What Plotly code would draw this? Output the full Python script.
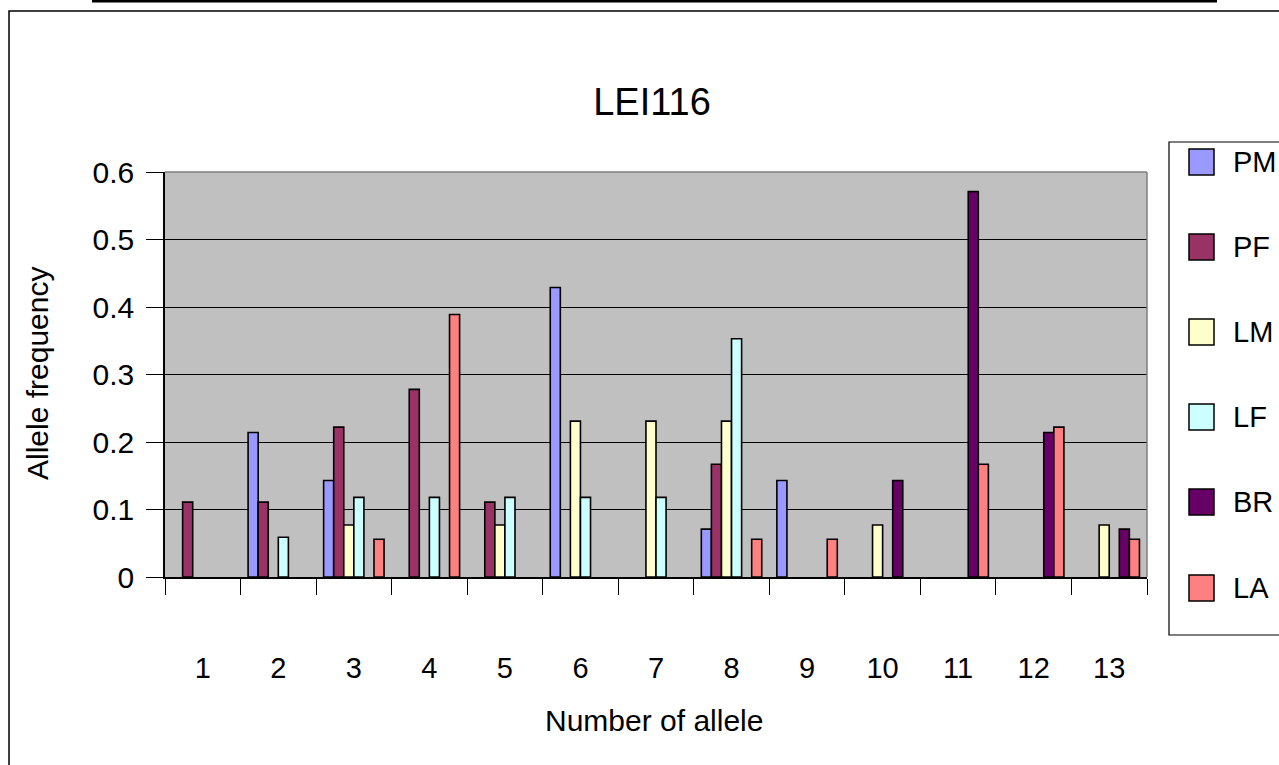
import plotly.graph_objects as go

# Allele frequencies at locus LEI116 for six populations
alleles = [str(i) for i in range(1, 14)]
pm = [0, 0.214, 0.143, 0, 0, 0.429, 0, 0.071, 0.143, 0, 0, 0, 0]
pf = [0.111, 0.111, 0.222, 0.278, 0.111, 0, 0, 0.167, 0, 0, 0, 0, 0]
lm = [0, 0, 0.077, 0, 0.077, 0.231, 0.231, 0.231, 0, 0.077, 0, 0, 0.077]
lf = [0, 0.059, 0.118, 0.118, 0.118, 0.118, 0.118, 0.353, 0, 0, 0, 0, 0]
br = [0, 0, 0, 0, 0, 0, 0, 0, 0, 0.143, 0.571, 0.214, 0.071]
la = [0, 0, 0.056, 0.389, 0, 0, 0, 0.056, 0.056, 0, 0.167, 0.222, 0.056]

series_names = ["PM", "PF", "LM", "LF", "BR", "LA"]
series_values = [pm, pf, lm, lf, br, la]
series_colors = ["#9999FF", "#993366", "#FFFFCC", "#CCFFFF", "#660066", "#FF8080"]

W, H = 1279, 765
L, R, T, B = 165, 1147, 172, 577  # plot area in pixels

FONT = "Liberation Sans, Arial, sans-serif"


def px(x):
    return (x - L) / (R - L)


def py(y):
    return (B - y) / (B - T)


fig = go.Figure()
for name, vals, col in zip(series_names, series_values, series_colors):
    # absent alleles get no bar at all
    shown = [v if v > 0 else None for v in vals]
    fig.add_trace(go.Bar(
        x=alleles, y=shown, name=name,
        marker=dict(color=col, line=dict(color="black", width=1.6)),
        showlegend=False,
    ))

shapes = []
annotations = []

# outer chart frame and the rule above it
shapes.append(dict(type="rect", xref="paper", yref="paper",
                   x0=px(9), x1=px(1300), y0=py(780), y1=py(11),
                   line=dict(color="black", width=1.5), layer="below"))
shapes.append(dict(type="line", xref="paper", yref="paper",
                   x0=px(92), x1=px(1217), y0=py(1), y1=py(1),
                   line=dict(color="black", width=3)))

# plot area border (grey on top and right)
shapes.append(dict(type="line", xref="paper", yref="paper",
                   x0=0, x1=1, y0=1, y1=1, line=dict(color="#808080", width=1.5)))
shapes.append(dict(type="line", xref="paper", yref="paper",
                   x0=1, x1=1, y0=0, y1=1, line=dict(color="#808080", width=1.5)))

# legend box
shapes.append(dict(type="rect", xref="paper", yref="paper",
                   x0=px(1169), x1=px(1300), y0=py(635), y1=py(142),
                   line=dict(color="black", width=1.2), fillcolor="white"))
leg_y = [162, 247, 332, 417, 502, 588]
for name, col, yc in zip(series_names, series_colors, leg_y):
    shapes.append(dict(type="rect", xref="paper", yref="paper",
                       x0=px(1189), x1=px(1214), y0=py(yc + 13), y1=py(yc - 13),
                       line=dict(color="black", width=1.5), fillcolor=col))
    annotations.append(dict(text=name, xref="paper", yref="paper",
                            x=px(1231), y=py(yc), xanchor="left", yanchor="middle",
                            showarrow=False, font=dict(family=FONT, size=29, color="black")))

# axis titles
annotations.append(dict(text="Allele frequency", xref="paper", yref="paper",
                        x=px(37), y=py(374), textangle=-90,
                        xanchor="center", yanchor="middle", showarrow=False,
                        font=dict(family=FONT, size=30, color="black")))
annotations.append(dict(text="Number of allele", xref="paper", yref="paper",
                        x=px(654), y=py(720),
                        xanchor="center", yanchor="middle", showarrow=False,
                        font=dict(family=FONT, size=30, color="black")))

fig.update_layout(
    width=W, height=H,
    margin=dict(l=L, r=W - R, t=T, b=H - B),
    paper_bgcolor="white",
    plot_bgcolor="#C0C0C0",
    barmode="group",
    bargap=0.2,
    bargroupgap=0,
    title=dict(text="LEI116", x=px(652), xref="paper", xanchor="center",
               y=1 - 102 / H, yanchor="middle",
               font=dict(family=FONT, size=38, color="black")),
    font=dict(family=FONT, size=30, color="black"),
    shapes=shapes,
    annotations=annotations,
)

fig.update_xaxes(
    type="category", range=[-0.5, 12.5],
    showline=True, linecolor="black", linewidth=1.5,
    ticks="outside", tickson="boundaries", ticklen=16, tickcolor="black", tickwidth=1,
    ticklabelstandoff=64,
    tickfont=dict(family=FONT, size=29, color="black"),
    showgrid=False, zeroline=False,
)
fig.update_yaxes(
    range=[0, 0.6], dtick=0.1, tick0=0,
    showline=True, linecolor="black", linewidth=1.5,
    ticks="outside", ticklen=17, tickcolor="black", tickwidth=1,
    ticklabelstandoff=6,
    tickfont=dict(family=FONT, size=30, color="black"),
    showgrid=True, gridcolor="black", gridwidth=1,
    zeroline=False,
)

fig.write_html("out.html")
